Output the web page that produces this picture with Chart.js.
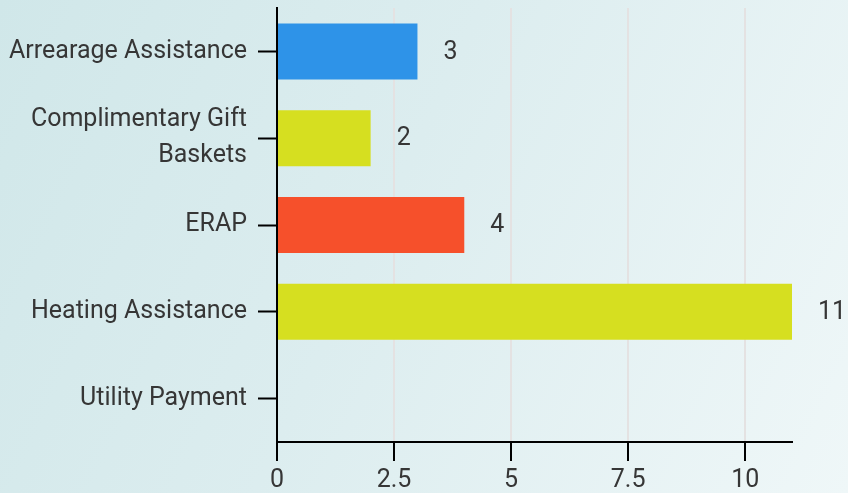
<!DOCTYPE html>
<html>
<head>
<meta charset="utf-8">
<script src="https://cdn.jsdelivr.net/npm/chart.js@4.4.1/dist/chart.umd.min.js"></script>
<style>
    html, body { margin: 0; padding: 0; }
    body {
        width: 848px;
        height: 493px;
        overflow: hidden;
        background: linear-gradient(115deg, #d0e7e9 0%, #dcedef 45%, #eff7f8 100%);
    }
    #wrap { position: relative; width: 848px; height: 493px; }
</style>
</head>
<body>
<div id="wrap"><canvas id="chart"></canvas></div>
<script>
const categories = ["Arrearage Assistance", ["Complimentary Gift", "Baskets"], "ERAP", "Heating Assistance", "Utility Payment"];
const counts = [3, 2, 4, 11, 0];
const barColors = ["#2e93e8", "#d6df20", "#f6502b", "#d6df20", "#2e93e8"];
const xTicks = [0, 2.5, 5, 7.5, 10];

const FONT = "Roboto, 'Noto Sans', sans-serif";
const TEXT = "#363636";

// writes the value just past the end of each bar
const barValueLabels = {
    id: "barValueLabels",
    afterDatasetsDraw(chart) {
        const ctx = chart.ctx;
        const meta = chart.getDatasetMeta(0);
        ctx.save();
        ctx.font = `25px ${FONT}`;
        ctx.fillStyle = TEXT;
        ctx.textAlign = "left";
        ctx.textBaseline = "middle";
        meta.data.forEach((bar, i) => {
            const value = chart.data.datasets[0].data[i];
            if (!value) return;
            ctx.fillText(String(value), bar.x + 26, bar.y + 1);
        });
        ctx.restore();
    },
};

new Chart(document.getElementById("chart"), {
    type: "bar",
    data: {
        labels: categories,
        datasets: [{
            data: counts,
            backgroundColor: barColors,
            borderWidth: 0,
            barPercentage: 0.645,
            categoryPercentage: 1,
        }],
    },
    options: {
        indexAxis: "y",
        responsive: true,
        maintainAspectRatio: false,
        animation: false,
        layout: { padding: { top: 8, right: 56, left: 0, bottom: 0 } },
        plugins: { legend: { display: false }, tooltip: { enabled: false } },
        scales: {
            x: {
                min: 0,
                max: 11,
                afterBuildTicks: (scale) => {
                    scale.ticks = xTicks.map((value) => ({ value }));
                },
                afterFit: (scale) => {
                    scale.height = 51;
                    scale.paddingLeft = 0;
                    scale.paddingRight = 0;
                },
                border: { color: "#000", width: 2 },
                grid: { color: "#e4e2e2", lineWidth: 2, tickColor: "#000", tickWidth: 2, tickLength: 19 },
                ticks: { color: TEXT, font: { family: FONT, size: 25 }, padding: 5 },
            },
            y: {
                afterFit: (scale) => {
                    scale.width = 277;
                    scale.paddingTop = 0;
                    scale.paddingBottom = 0;
                },
                border: { color: "#000", width: 2 },
                grid: { offset: false, drawOnChartArea: false, tickColor: "#000", tickWidth: 2, tickLength: 19 },
                ticks: { color: TEXT, font: { family: FONT, size: 25, lineHeight: 1.44 }, padding: 11 },
            },
        },
    },
    plugins: [barValueLabels],
});
</script>
</body>
</html>
